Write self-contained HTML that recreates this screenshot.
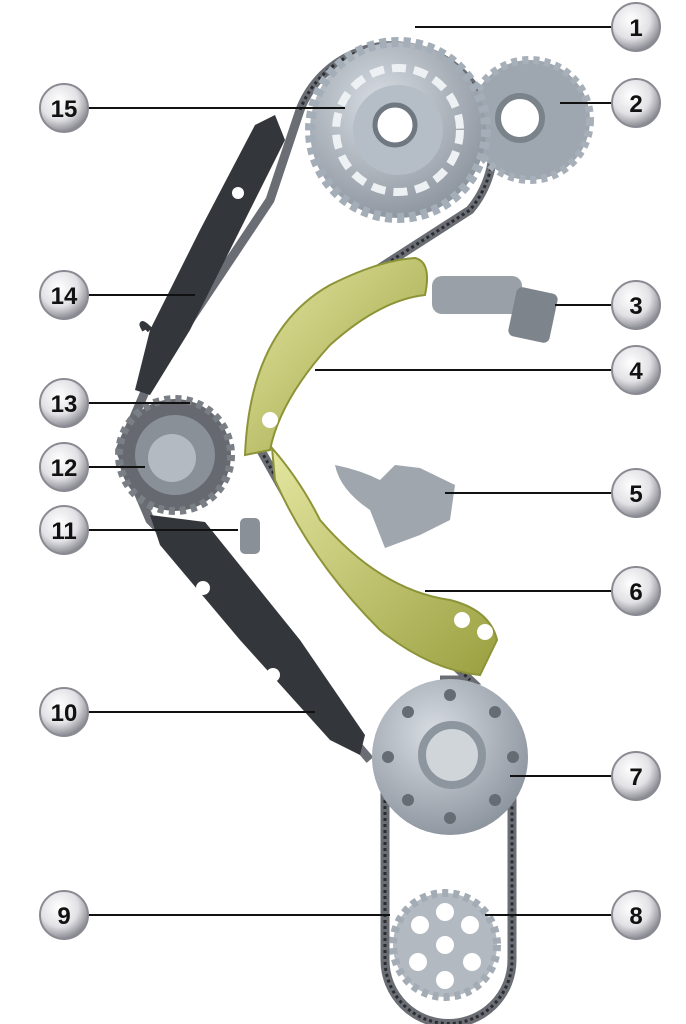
<!DOCTYPE html>
<html><head><style>
html,body{margin:0;padding:0;background:#fff;}
svg{display:block}
.b text{font-family:"Liberation Sans",sans-serif;font-weight:bold;font-size:24px;text-anchor:middle;fill:#111}
</style></head><body>
<svg width="686" height="1024" viewBox="0 0 686 1024" xmlns="http://www.w3.org/2000/svg">
<defs>
<radialGradient id="bg" cx="40%" cy="35%" r="65%"><stop offset="0" stop-color="#fff"/><stop offset="0.6" stop-color="#e2e2e6"/><stop offset="1" stop-color="#8a8a92"/></radialGradient>
<radialGradient id="metal" cx="40%" cy="35%" r="70%"><stop offset="0" stop-color="#d8dde3"/><stop offset="1" stop-color="#8a929c"/></radialGradient>
<linearGradient id="yel" x1="0" y1="0" x2="1" y2="1"><stop offset="0" stop-color="#e4e6a0"/><stop offset="1" stop-color="#9aa040"/></linearGradient>
</defs>
<g fill="none" stroke="#6a6e74" stroke-width="9">
<path d="M300 110 A100 100 0 1 1 470 210 L330 300 L255 440 L300 520 L470 680 L440 680"/>
<path d="M300 110 L270 200 L150 380 L120 450 L150 520 L250 620 L370 760"/>
<path d="M385 770 L385 960 A62 62 0 0 0 512 960 L512 770"/>
</g>
<g fill="none" stroke="#2a2c30" stroke-width="3" stroke-dasharray="3 3">
<path d="M300 110 A100 100 0 1 1 470 210 L330 300 L255 440 L300 520 L470 680"/>
<path d="M385 770 L385 960 A62 62 0 0 0 512 960 L512 770"/>
</g>
<circle cx="530" cy="120" r="60" fill="#9ea7b0" stroke="#a7b0b9" stroke-width="8" stroke-dasharray="6 5"/>
<circle cx="520" cy="118" r="22" fill="#fff" stroke="#7a828a" stroke-width="6"/>
<circle cx="398" cy="130" r="88" fill="url(#metal)" stroke="#a4aeb8" stroke-width="10" stroke-dasharray="7 5"/>
<circle cx="398" cy="130" r="62" fill="none" stroke="#eef1f4" stroke-width="8" stroke-dasharray="14 8"/>
<circle cx="398" cy="130" r="45" fill="#b5bdc6"/>
<circle cx="395" cy="125" r="20" fill="#fff" stroke="#6f7780" stroke-width="5"/>
<path d="M275 115 L285 140 L190 330 L150 395 L135 390 L150 330 L200 230 L255 125 Z" fill="#33373c"/>
<circle cx="238" cy="193" r="6" fill="#fff"/>
<path d="M150 330 Q138 318 145 330" stroke="#33373c" stroke-width="6" fill="none"/>
<path d="M150 515 L205 522 L300 640 L365 735 L360 755 L330 740 L240 640 L160 545 Z" fill="#33373c"/>
<circle cx="203" cy="588" r="7" fill="#fff"/><circle cx="273" cy="675" r="7" fill="#fff"/>
<circle cx="175" cy="455" r="56" fill="#66696f" stroke="#7a7f86" stroke-width="8" stroke-dasharray="6 5"/>
<circle cx="175" cy="455" r="40" fill="#8a9098"/>
<circle cx="172" cy="458" r="24" fill="#b4bac1"/>
<path d="M245 455 Q250 330 330 285 Q380 260 415 258 Q432 262 425 295 Q380 300 330 345 Q280 400 270 450 Z" fill="url(#yel)" stroke="#8d9438" stroke-width="2"/>
<circle cx="270" cy="420" r="8" fill="#fff"/>
<path d="M272 448 Q300 480 320 520 Q380 590 450 600 Q490 610 497 640 L480 675 Q430 670 380 630 Q310 560 275 480 Z" fill="url(#yel)" stroke="#8d9438" stroke-width="2"/>
<circle cx="462" cy="620" r="8" fill="#fff"/><circle cx="485" cy="632" r="8" fill="#fff"/>
<rect x="432" y="276" width="90" height="38" rx="10" fill="#9aa0a7"/>
<rect x="512" y="290" width="42" height="50" rx="6" fill="#7d848c" transform="rotate(12 533 315)"/>
<path d="M335 465 Q360 470 380 480 L395 465 L420 468 L455 485 L450 520 L420 535 L385 548 L370 510 Q340 490 335 465Z" fill="#a0a6ad"/>
<rect x="240" y="518" width="20" height="36" rx="5" fill="#8a9098"/>
<circle cx="450" cy="757" r="78" fill="url(#metal)"/>
<circle cx="452" cy="755" r="30" fill="#d0d5da" stroke="#8d959e" stroke-width="8"/>
<g fill="#666c73"><circle cx="408" cy="712" r="6"/><circle cx="450" cy="695" r="6"/><circle cx="495" cy="712" r="6"/><circle cx="513" cy="757" r="6"/><circle cx="495" cy="800" r="6"/><circle cx="450" cy="818" r="6"/><circle cx="408" cy="800" r="6"/><circle cx="388" cy="757" r="6"/></g>
<circle cx="445" cy="945" r="52" fill="#b2b9c1" stroke="#a3abb4" stroke-width="8" stroke-dasharray="6 5"/>
<g fill="#fff"><circle cx="445" cy="945" r="9"/><circle cx="420" cy="925" r="9"/><circle cx="470" cy="925" r="9"/><circle cx="418" cy="962" r="9"/><circle cx="472" cy="962" r="9"/><circle cx="445" cy="980" r="9"/><circle cx="445" cy="912" r="9"/></g>
<g stroke="#111" stroke-width="2">
<line x1="415" y1="27" x2="612" y2="27"/><line x1="560" y1="103" x2="612" y2="103"/>
<line x1="555" y1="305" x2="612" y2="305"/><line x1="315" y1="370" x2="612" y2="370"/>
<line x1="445" y1="493" x2="612" y2="493"/><line x1="425" y1="591" x2="612" y2="591"/>
<line x1="510" y1="776" x2="612" y2="776"/><line x1="485" y1="915" x2="612" y2="915"/>
<line x1="88" y1="108" x2="345" y2="108"/><line x1="88" y1="295" x2="195" y2="295"/>
<line x1="88" y1="403" x2="190" y2="403"/><line x1="88" y1="467" x2="145" y2="467"/>
<line x1="88" y1="530" x2="238" y2="530"/><line x1="88" y1="712" x2="315" y2="712"/>
<line x1="88" y1="915" x2="390" y2="915"/>
</g>
<g class="b">
<g transform="translate(636 27)"><circle r="24" fill="url(#bg)" stroke="#8a8a92" stroke-width="2"/><text y="9">1</text></g>
<g transform="translate(636 103)"><circle r="24" fill="url(#bg)" stroke="#8a8a92" stroke-width="2"/><text y="9">2</text></g>
<g transform="translate(636 305)"><circle r="24" fill="url(#bg)" stroke="#8a8a92" stroke-width="2"/><text y="9">3</text></g>
<g transform="translate(636 370)"><circle r="24" fill="url(#bg)" stroke="#8a8a92" stroke-width="2"/><text y="9">4</text></g>
<g transform="translate(636 493)"><circle r="24" fill="url(#bg)" stroke="#8a8a92" stroke-width="2"/><text y="9">5</text></g>
<g transform="translate(636 591)"><circle r="24" fill="url(#bg)" stroke="#8a8a92" stroke-width="2"/><text y="9">6</text></g>
<g transform="translate(636 776)"><circle r="24" fill="url(#bg)" stroke="#8a8a92" stroke-width="2"/><text y="9">7</text></g>
<g transform="translate(636 915)"><circle r="24" fill="url(#bg)" stroke="#8a8a92" stroke-width="2"/><text y="9">8</text></g>
<g transform="translate(64 108)"><circle r="24" fill="url(#bg)" stroke="#8a8a92" stroke-width="2"/><text y="9">15</text></g>
<g transform="translate(64 295)"><circle r="24" fill="url(#bg)" stroke="#8a8a92" stroke-width="2"/><text y="9">14</text></g>
<g transform="translate(64 403)"><circle r="24" fill="url(#bg)" stroke="#8a8a92" stroke-width="2"/><text y="9">13</text></g>
<g transform="translate(64 467)"><circle r="24" fill="url(#bg)" stroke="#8a8a92" stroke-width="2"/><text y="9">12</text></g>
<g transform="translate(64 530)"><circle r="24" fill="url(#bg)" stroke="#8a8a92" stroke-width="2"/><text y="9">11</text></g>
<g transform="translate(64 712)"><circle r="24" fill="url(#bg)" stroke="#8a8a92" stroke-width="2"/><text y="9">10</text></g>
<g transform="translate(64 915)"><circle r="24" fill="url(#bg)" stroke="#8a8a92" stroke-width="2"/><text y="9">9</text></g>
</g>
</svg>
</body></html>
